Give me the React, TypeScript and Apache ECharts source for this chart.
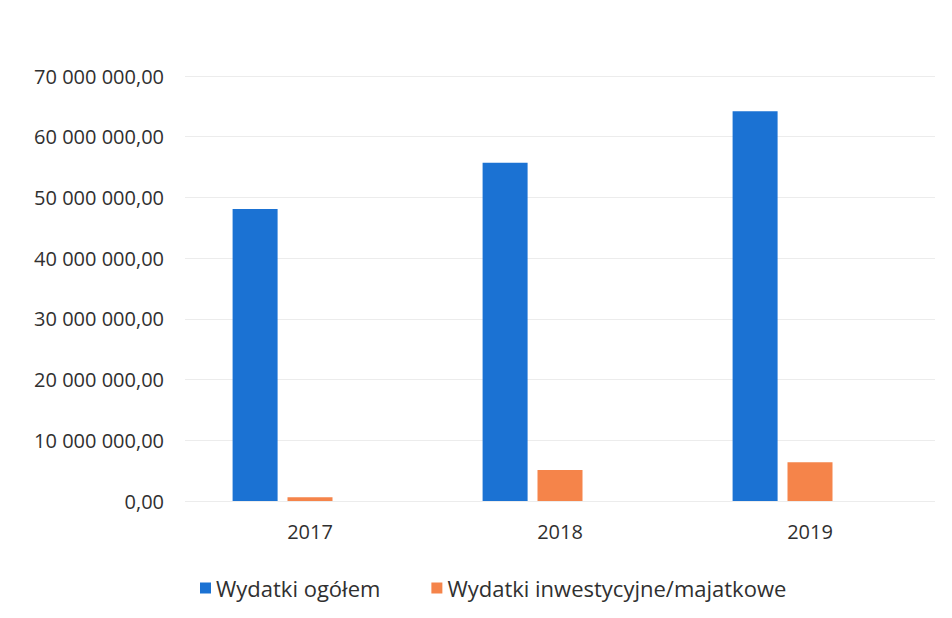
import React, { useEffect, useRef } from "react";
import * as echarts from "echarts";

const categories = ["2017", "2018", "2019"];
const totalSeriesName = "Wydatki ogółem";
const investSeriesName = "Wydatki inwestycyjne/majatkowe";
const totalValues = [48100000, 55700000, 64200000];
const investValues = [600000, 5100000, 6400000];
const emptySlotValues = [null, null, null];

const formatPl = (v: number) => {
  const [int, dec] = v.toFixed(2).split(".");
  return int.replace(/\B(?=(\d{3})+(?!\d))/g, " ") + "," + dec;
};

export default function App() {
  const ref = useRef<HTMLDivElement>(null);
  useEffect(() => {
    if (!ref.current) return;
    const chart = echarts.init(ref.current, undefined, { renderer: "svg" });
    const font = "'Open Sans', 'Noto Sans', sans-serif";
    chart.setOption({
      animation: false,
      backgroundColor: "#ffffff",
      textStyle: { fontFamily: font },
      grid: { left: 185, right: 17, top: 76, bottom: 117, containLabel: false },
      legend: {
        data: [totalSeriesName, investSeriesName],
        left: 195,
        top: 572,
        icon: "rect",
        itemWidth: 11,
        itemHeight: 11,
        itemGap: 51,
        itemTextGap: 6,
        textStyle: { fontFamily: font, fontSize: 22, color: "#303030" },
      },
      xAxis: {
        type: "category",
        data: categories,
        axisLine: { show: false },
        axisTick: { show: false },
        axisLabel: { fontFamily: font, fontSize: 20, color: "#303030", margin: 20 },
      },
      yAxis: {
        type: "value",
        min: 0,
        max: 70000000,
        interval: 10000000,
        axisLine: { show: false },
        axisTick: { show: false },
        splitLine: { lineStyle: { color: "#ececec", width: 1 } },
        axisLabel: {
          fontFamily: font,
          fontSize: 20,
          color: "#303030",
          margin: 21,
          formatter: (v: number) => formatPl(v),
        },
      },
      series: [
        {
          name: totalSeriesName,
          type: "bar",
          data: totalValues,
          barWidth: 45,
          barGap: "22%",
          itemStyle: { color: "#1B72D3" },
        },
        {
          name: investSeriesName,
          type: "bar",
          data: investValues,
          barWidth: 45,
          barGap: "22%",
          itemStyle: { color: "#F5844A" },
        },
        {
          name: "_pusty",
          type: "bar",
          data: emptySlotValues,
          barWidth: 45,
          barGap: "22%",
          itemStyle: { color: "#A5A5A5" },
        },
      ],
    });
    return () => chart.dispose();
  }, []);
  return (
    <div
      ref={ref}
      style={{ position: "absolute", left: 0, top: 0, width: 952, height: 618 }}
    />
  );
}
